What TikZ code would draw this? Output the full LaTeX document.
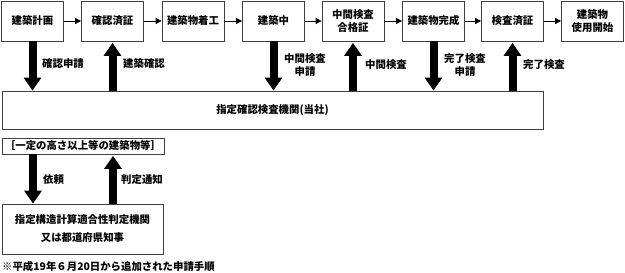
\documentclass[tikz,border=0pt]{standalone}
\usepackage{fontspec}
\setmainfont{Noto Sans CJK JP}
\usetikzlibrary{arrows.meta}
\begin{document}
\begin{tikzpicture}[x=1pt,y=-1pt,
  txt/.style={font=\bfseries\fontsize{10.4}{13}\selectfont, align=center, inner sep=0pt},
  stepbox/.style={txt, draw=black!75, line width=0.8pt, minimum width=62pt, minimum height=40pt},
  wbox/.style={txt, draw=black!75, line width=0.8pt},
  flow/.style={line width=0.8pt, -{Triangle[width=6pt,length=6pt]}},
  bigarrow/.style={line width=8pt, -{Triangle[width=17pt,length=13pt]}},
  lbl/.style={txt, anchor=west}
]
\useasboundingbox (0,0) rectangle (625,273);
% top boxes
\node[stepbox] (b1) at (32.5,21) {建築計画};
\node[stepbox] (b2) at (112.5,21) {確認済証};
\node[stepbox] (b3) at (193,21) {建築物着工};
\node[stepbox] (b4) at (273.5,21) {建築中};
\node[stepbox] (b5) at (353,21) {中間検査\\合格証};
\node[stepbox] (b6) at (433.5,21) {建築物完成};
\node[stepbox] (b7) at (512.5,21) {検査済証};
\node[stepbox] (b8) at (592.5,21) {建築物\\使用開始};
\foreach \a/\b in {b1/b2,b2/b3,b3/b4,b4/b5,b5/b6,b6/b7,b7/b8}
  \draw[flow] (\a) -- (\b);
% big box
\node[wbox, minimum width=541pt, minimum height=38pt] (big) at (272.5,110) {指定確認検査機関(当社)};
% big arrows
\draw[bigarrow] (b1.south) -- (b1.south |- big.north);
\draw[bigarrow, shorten >=1.5pt] (big.north -| b2.south) -- (b2.south);
\draw[bigarrow] (b4.south) -- (b4.south |- big.north);
\draw[bigarrow, shorten >=1.5pt] (big.north -| b5.south) -- (b5.south);
\draw[bigarrow] (b6.south) -- (b6.south |- big.north);
\draw[bigarrow, shorten >=1.5pt] (big.north -| b7.south) -- (b7.south);
% labels
\node[lbl] (l1) at (42,64) {確認申請};
\node[lbl] (l2) at (123,64) {建築確認};
\node[txt] (l3) at (305,65) {中間検査\\申請};
\node[lbl] (l4) at (365,65) {中間検査};
\node[txt] (l5) at (465,65) {完了検査\\申請};
\node[lbl] (l6) at (523,65) {完了検査};
% lower part
\node[wbox, minimum width=162pt, minimum height=16pt] (sb) at (83,146) {［一定の高さ以上等の建築物等］};
\node[wbox, minimum width=161pt, minimum height=50pt] (jb) at (82.5,229) {指定構造計算適合性判定機関\\[5pt]又は都道府県知事};
\coordinate (xa) at (33,0);
\coordinate (xb) at (113,0);
\draw[bigarrow] (sb.south -| xa) -- (jb.north -| xa);
\draw[bigarrow, shorten >=1.5pt] (jb.north -| xb) -- (sb.south -| xb);
\node[lbl] (l7) at (43,180) {依頼};
\node[lbl] (l8) at (121,180) {判定通知};
\node[lbl] (fn) at (2,267) {※平成19年６月20日から追加された申請手順};
\end{tikzpicture}
\end{document}
